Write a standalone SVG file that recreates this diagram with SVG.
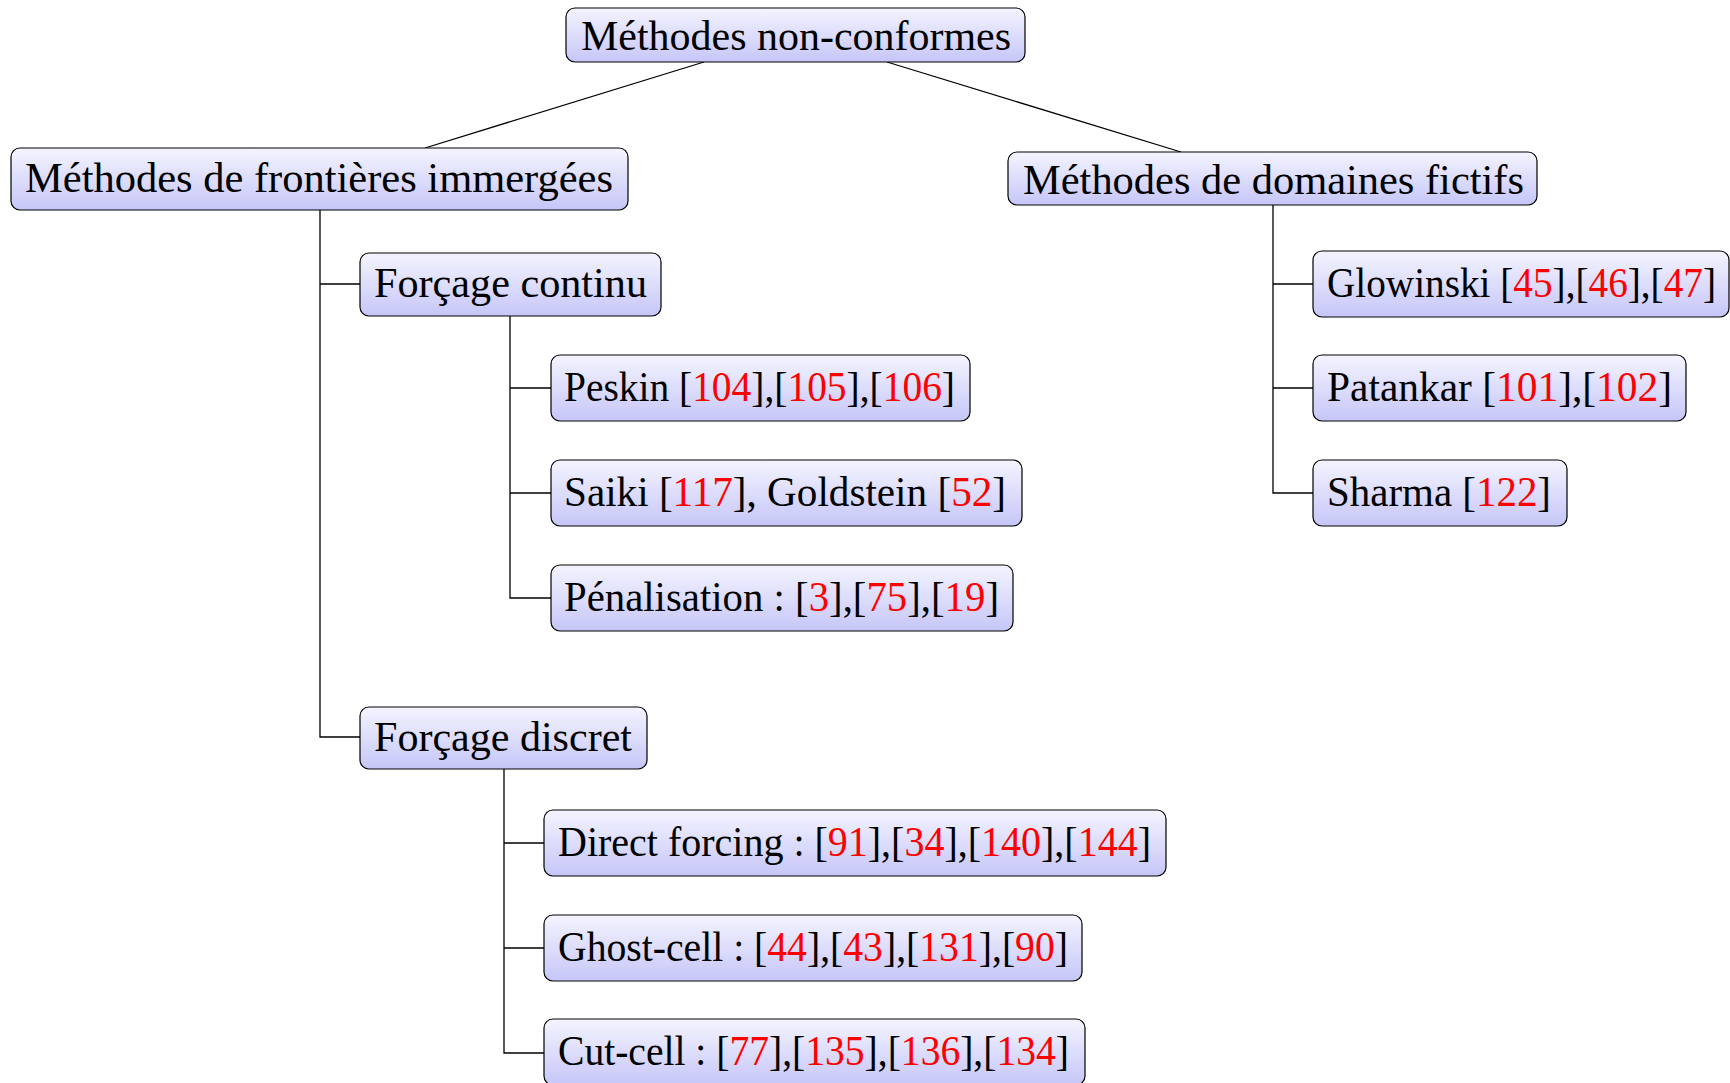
<svg xmlns="http://www.w3.org/2000/svg" width="1730" height="1083" viewBox="0 0 1730 1083">
<defs>
<linearGradient id="g" x1="0" y1="0" x2="0" y2="1">
<stop offset="0" stop-color="#f4f4ff"/>
<stop offset="1" stop-color="#c6c6f8"/>
</linearGradient>
<style>
.box{fill:url(#g);stroke:#000;stroke-width:1.2}
.t{font-family:"Liberation Serif","DejaVu Serif",serif;font-size:42px;fill:#000}
.r{fill:#ff0000}
.c{fill:none;stroke:#000;stroke-width:1.3}
</style>
</defs>
<rect width="1730" height="1083" fill="#fff"/>
<g id="connectors">
<path class="c" d="M704,62 L425,148"/>
<path class="c" d="M887,62 L1181,152"/>
<path class="c" d="M320,210 V737 H360 M320,284 H360"/>
<path class="c" d="M510,316 V598 H551 M510,388 H551 M510,493 H551"/>
<path class="c" d="M504,769 V1053 H544 M504,843 H544 M504,948 H544"/>
<path class="c" d="M1273,205 V493 H1313 M1273,284 H1313 M1273,388 H1313"/>
</g>
<g id="root"><rect class="box" x="566" y="8" width="459" height="54" rx="9"/>
<text class="t" x="581" y="50" textLength="430" lengthAdjust="spacingAndGlyphs">Méthodes non-conformes</text></g>
<g id="immersed"><rect class="box" x="11" y="148" width="617" height="62" rx="9"/>
<text class="t" x="25" y="192" textLength="588" lengthAdjust="spacingAndGlyphs">Méthodes de frontières immergées</text></g>
<g id="fictifs"><rect class="box" x="1008" y="152" width="529" height="53" rx="9"/>
<text class="t" x="1023" y="194" textLength="501" lengthAdjust="spacingAndGlyphs">Méthodes de domaines fictifs</text></g>
<g id="continu"><rect class="box" x="360" y="253" width="301" height="63" rx="9"/>
<text class="t" x="374" y="297" textLength="273" lengthAdjust="spacingAndGlyphs">Forçage continu</text></g>
<g id="peskin"><rect class="box" x="551" y="355" width="419" height="66" rx="9"/>
<text class="t" x="564" y="401" textLength="391" lengthAdjust="spacingAndGlyphs">Peskin [<tspan class="r">104</tspan>],[<tspan class="r">105</tspan>],[<tspan class="r">106</tspan>]</text></g>
<g id="saiki"><rect class="box" x="551" y="460" width="471" height="66" rx="9"/>
<text class="t" x="564" y="506" textLength="442" lengthAdjust="spacingAndGlyphs">Saiki [<tspan class="r">117</tspan>], Goldstein [<tspan class="r">52</tspan>]</text></g>
<g id="penalisation"><rect class="box" x="551" y="565" width="462" height="66" rx="9"/>
<text class="t" x="564" y="611" textLength="435" lengthAdjust="spacingAndGlyphs">Pénalisation : [<tspan class="r">3</tspan>],[<tspan class="r">75</tspan>],[<tspan class="r">19</tspan>]</text></g>
<g id="discret"><rect class="box" x="360" y="707" width="287" height="62" rx="9"/>
<text class="t" x="374" y="751" textLength="258" lengthAdjust="spacingAndGlyphs">Forçage discret</text></g>
<g id="direct"><rect class="box" x="544" y="810" width="622" height="66" rx="9"/>
<text class="t" x="558" y="856" textLength="593" lengthAdjust="spacingAndGlyphs">Direct forcing : [<tspan class="r">91</tspan>],[<tspan class="r">34</tspan>],[<tspan class="r">140</tspan>],[<tspan class="r">144</tspan>]</text></g>
<g id="ghost"><rect class="box" x="544" y="915" width="538" height="66" rx="9"/>
<text class="t" x="558" y="961" textLength="510" lengthAdjust="spacingAndGlyphs">Ghost-cell : [<tspan class="r">44</tspan>],[<tspan class="r">43</tspan>],[<tspan class="r">131</tspan>],[<tspan class="r">90</tspan>]</text></g>
<g id="cut"><rect class="box" x="544" y="1019" width="541" height="66" rx="9"/>
<text class="t" x="558" y="1065" textLength="511" lengthAdjust="spacingAndGlyphs">Cut-cell : [<tspan class="r">77</tspan>],[<tspan class="r">135</tspan>],[<tspan class="r">136</tspan>],[<tspan class="r">134</tspan>]</text></g>
<g id="glowinski"><rect class="box" x="1313" y="251" width="416" height="66" rx="9"/>
<text class="t" x="1327" y="297" textLength="389" lengthAdjust="spacingAndGlyphs">Glowinski [<tspan class="r">45</tspan>],[<tspan class="r">46</tspan>],[<tspan class="r">47</tspan>]</text></g>
<g id="patankar"><rect class="box" x="1313" y="355" width="373" height="66" rx="9"/>
<text class="t" x="1327" y="401" textLength="345" lengthAdjust="spacingAndGlyphs">Patankar [<tspan class="r">101</tspan>],[<tspan class="r">102</tspan>]</text></g>
<g id="sharma"><rect class="box" x="1313" y="460" width="254" height="66" rx="9"/>
<text class="t" x="1327" y="506" textLength="224" lengthAdjust="spacingAndGlyphs">Sharma [<tspan class="r">122</tspan>]</text></g>
</svg>
